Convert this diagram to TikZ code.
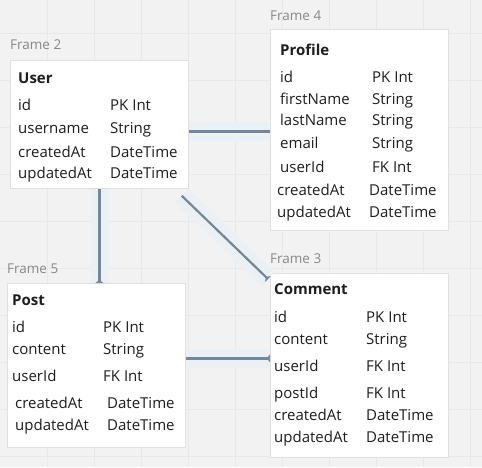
\documentclass[tikz,border=0pt]{standalone}
\usepackage{fontspec}
\setmainfont{Open Sans}
\usepackage{tikz}
\usetikzlibrary{arrows.meta}

\definecolor{boardbg}{HTML}{F2F2F2}
\definecolor{gridln}{HTML}{E8E8E8}
\definecolor{framegray}{HTML}{888888}
\definecolor{linkcol}{HTML}{74869A}
\definecolor{linkhalo}{HTML}{EBF0F5}
\definecolor{fieldcol}{HTML}{1E1E1E}

\begin{document}
\begin{tikzpicture}[x=1pt, y=-1pt,
            tbl/.style={draw=black!12, fill=white, line width=0.8pt, anchor=north west, inner sep=0pt, minimum width=178pt},
            framelbl/.style={anchor=base west, inner sep=0pt, text=framegray, font=\fontsize{13.5}{16}\selectfont},
            tbltitle/.style={anchor=base west, inner sep=0pt, text=fieldcol, font=\fontsize{15}{18}\selectfont\bfseries},
            field/.style={anchor=base west, inner sep=0pt, text=fieldcol, font=\fontsize{15}{18}\selectfont},
            link/.style={line width=2.2pt, linkcol, preaction={draw=linkhalo, line width=19pt, -}},
            endtip/.style={-{Triangle[reversed, length=3pt, width=8pt]}}]

            % board with grid
            \useasboundingbox (0,0) rectangle (482,467);
            \fill[boardbg] (0,0) rectangle (482,467);
            \foreach \gx in {47,94,...,470} \draw[gridln, line width=1pt] (\gx,0) -- (\gx,467);
            \foreach \gy in {33,80,...,456} \draw[gridln, line width=1pt] (0,\gy) -- (482,\gy);

            % tables
            \node[tbl, minimum height=128pt] (user) at (10,60) {};
            \node[tbl, minimum height=201pt] (profile) at (270,29) {};
            \node[tbl, minimum height=164pt] (post) at (7,283) {};
            \node[tbl, minimum height=184pt] (comment) at (270,273) {};

            \node[framelbl] (user-frame) at (10,49) {Frame 2};
            \node[framelbl] (profile-frame) at (270,20) {Frame 4};
            \node[framelbl] (post-frame) at (7,273) {Frame 5};
            \node[framelbl] (comment-frame) at (270,263) {Frame 3};

            \node[tbltitle] (user-title) at (18,83) {User};
            \node[tbltitle] (profile-title) at (280,55) {Profile};
            \node[tbltitle] (post-title) at (12,305) {Post};
            \node[tbltitle] (comment-title) at (274,294) {Comment};

            % fields: baseline / name x / type x / name / type
            \foreach \y/\fx/\tx/\fname/\ftype [count=\i] in {110/18/110/id/PK Int, 133/18/110/username/String,
                157/18/110/createdAt/DateTime, 178/18/110/updatedAt/DateTime} {
              \node[field] (user-n\i) at (\fx,\y) {\fname};
              \node[field] (user-t\i) at (\tx,\y) {\ftype};
            }
            \foreach \y/\fx/\tx/\fname/\ftype [count=\i] in {82/280/372/id/PK Int, 104/280/372/firstName/String,
                125/280/372/lastName/String, 148/280/372/email/String, 172/280/372/userId/FK Int,
                195/277/369/createdAt/DateTime, 217/277/369/updatedAt/DateTime} {
              \node[field] (profile-n\i) at (\fx,\y) {\fname};
              \node[field] (profile-t\i) at (\tx,\y) {\ftype};
            }
            \foreach \y/\fx/\tx/\fname/\ftype [count=\i] in {332/12/103/id/PK Int, 354/12/103/content/String,
                381/12/103/userId/FK Int, 408/15/107/createdAt/DateTime, 430/15/107/updatedAt/DateTime} {
              \node[field] (post-n\i) at (\fx,\y) {\fname};
              \node[field] (post-t\i) at (\tx,\y) {\ftype};
            }
            \foreach \y/\fx/\tx/\fname/\ftype [count=\i] in {322/274/366/id/PK Int, 344/274/366/content/String,
                371/274/366/userId/FK Int, 398/274/366/postId/FK Int,
                420/274/366/createdAt/DateTime, 442/274/366/updatedAt/DateTime} {
              \node[field] (comment-n\i) at (\fx,\y) {\fname};
              \node[field] (comment-t\i) at (\tx,\y) {\ftype};
            }

            % relations
            \draw[link] ([yshift=-1.5pt]user.east |- profile.west) -- ([yshift=-1.5pt]profile.west);
            \draw[link, endtip] (user.south) -- (user.south |- post.north);
            \draw[link, endtip] ([xshift=-7pt, yshift=-7pt]user.south east) -- ([xshift=-2pt, yshift=-6pt]comment.north west);
            \draw[link, endtip] ([yshift=7pt]post.east) -- ([yshift=7pt]post.east -| comment.west);
        \end{tikzpicture}
\end{document}
